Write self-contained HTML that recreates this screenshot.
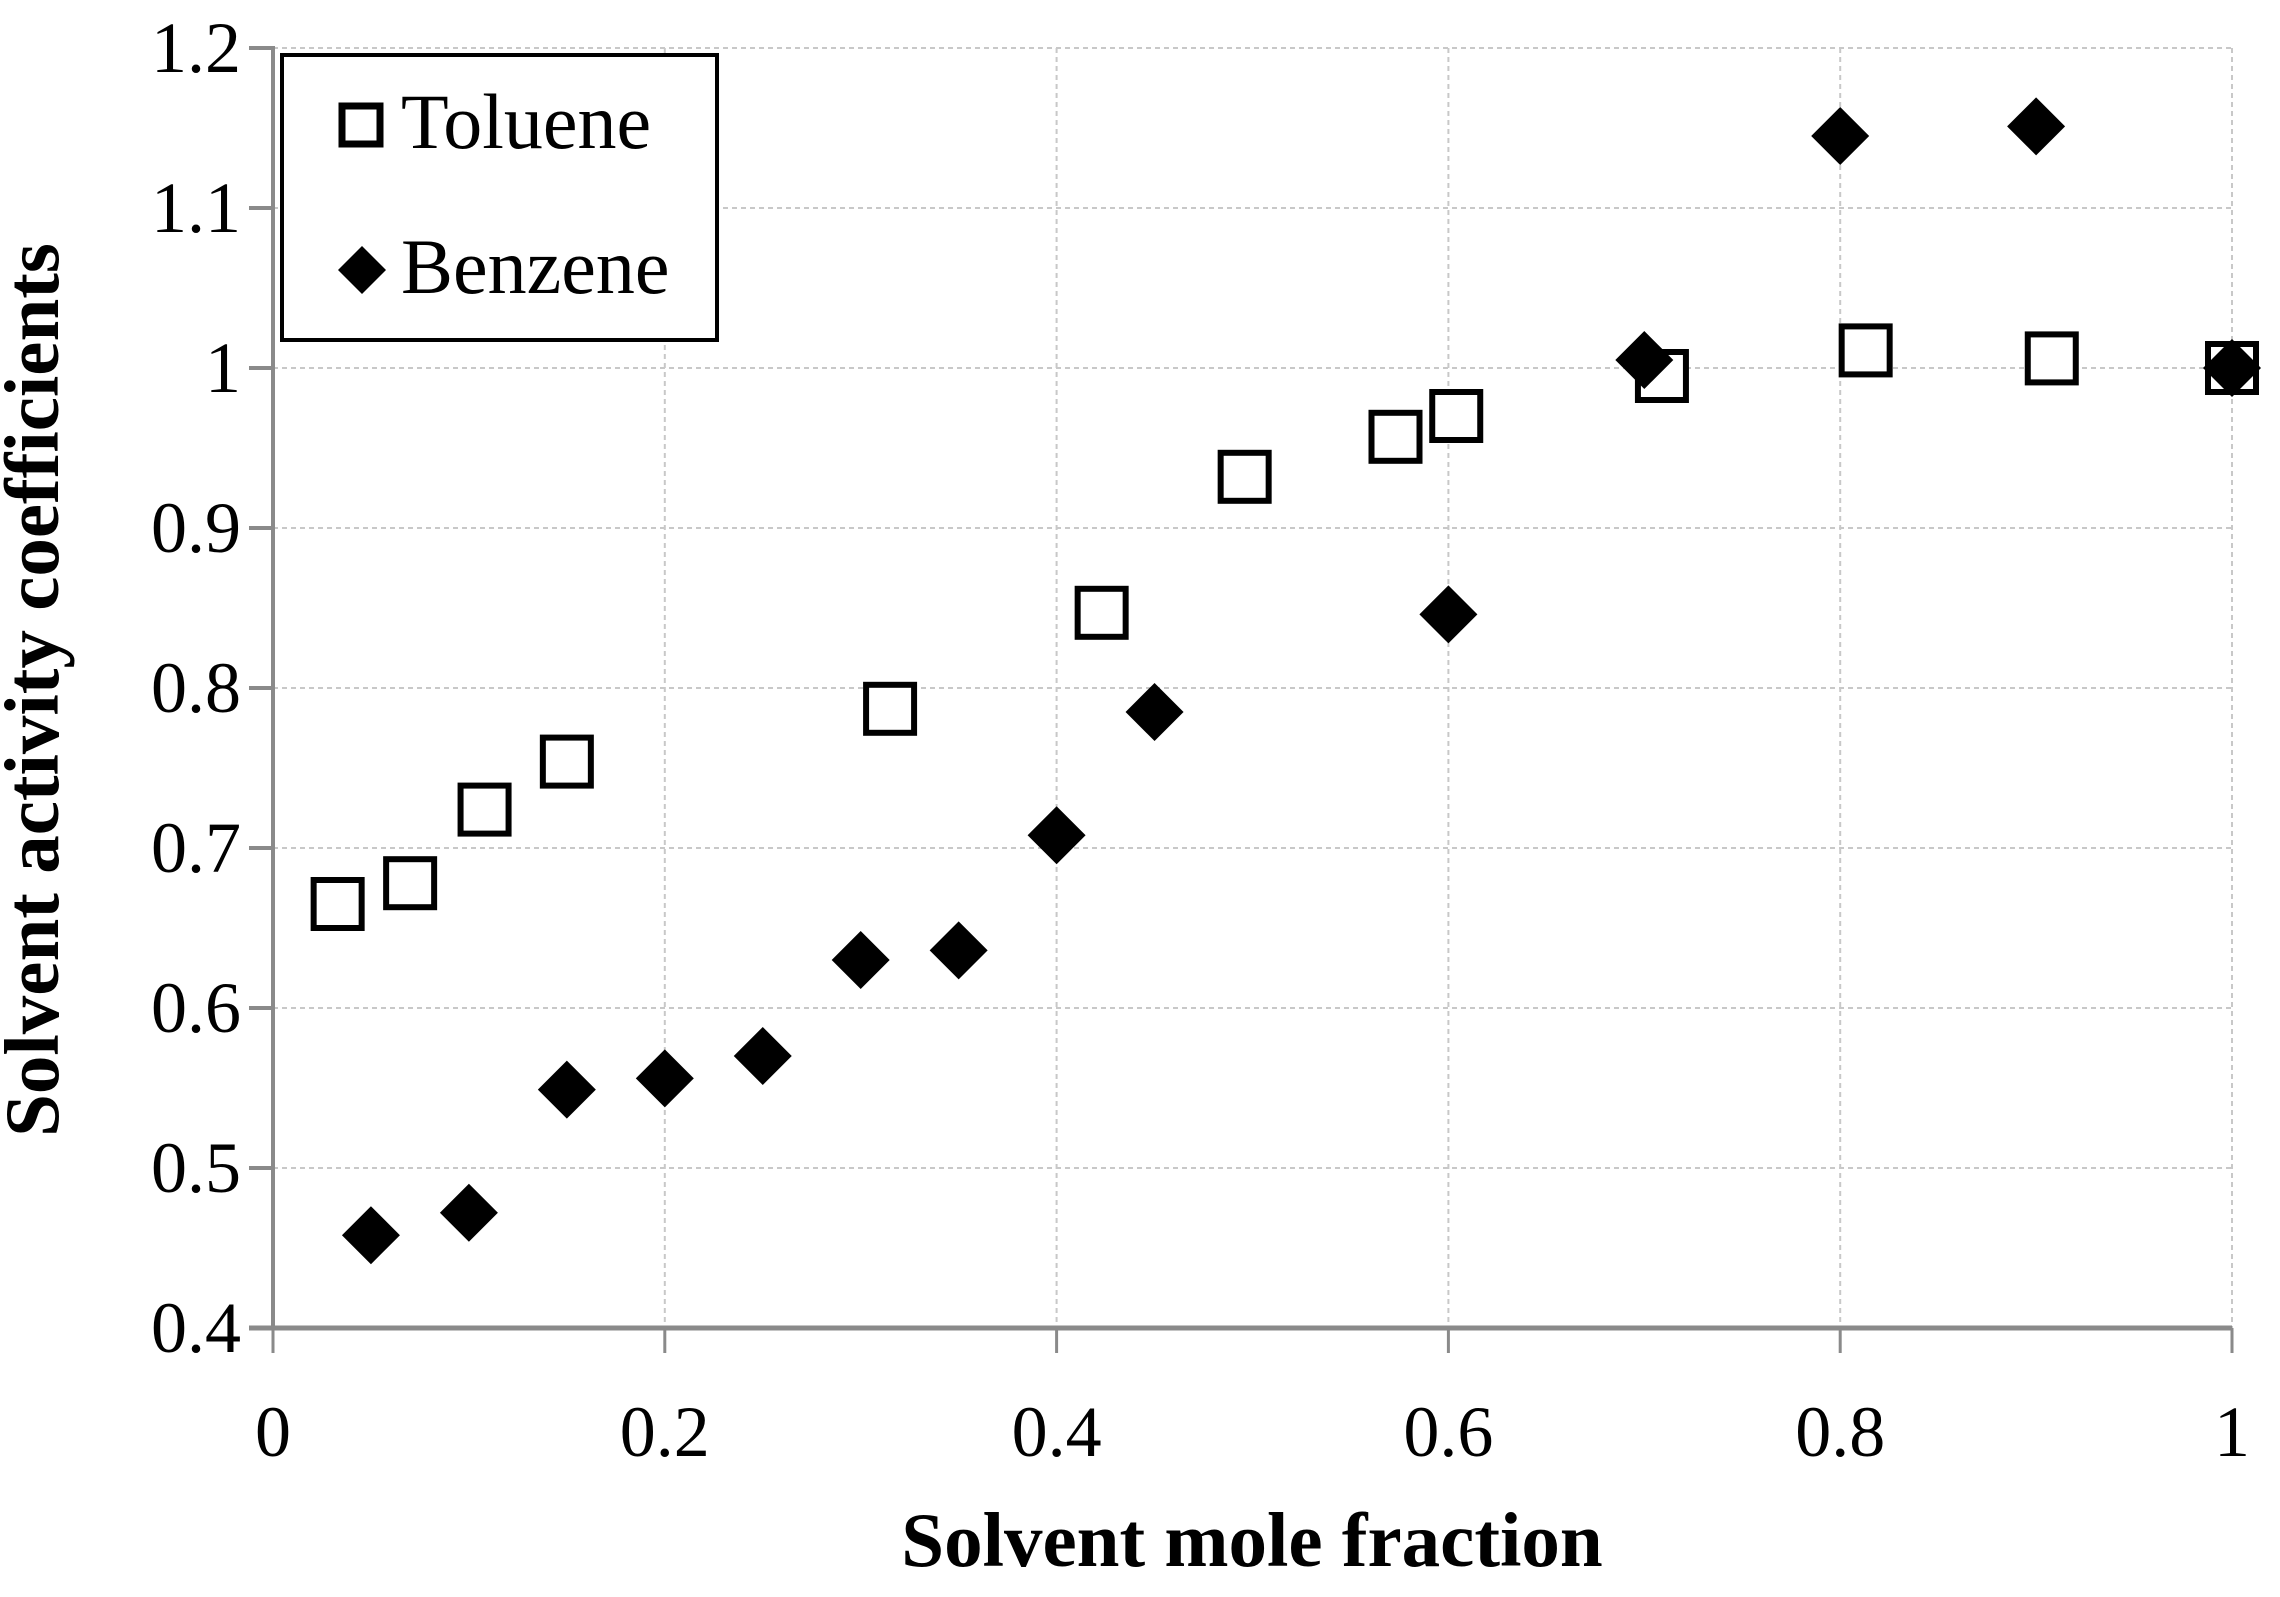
<!DOCTYPE html>
<html><head><meta charset="utf-8"><style>
html,body{margin:0;padding:0;background:#fff;}
svg{display:block;font-family:"Liberation Serif",serif;}
</style></head><body>
<svg id="chart" width="2280" height="1597" viewBox="0 0 2280 1597" xmlns="http://www.w3.org/2000/svg">
<g id="grid"></g>
<g id="axes"></g>
<g id="marks"></g>
<text x="1252" y="1566" text-anchor="middle" font-size="77" font-weight="bold">Solvent mole fraction</text>
<text transform="translate(58,690) rotate(-90)" text-anchor="middle" font-size="77" font-weight="bold">Solvent activity coefficients</text>
<g>
<rect x="282" y="55" width="435" height="285" fill="#fff" stroke="#000" stroke-width="4"/>
<rect x="342" y="106" width="38" height="38" fill="#fff" stroke="#000" stroke-width="7"/>
<text x="401" y="148" font-size="78">Toluene</text>
<polygon points="362,246 386,270 362,294 338,270" fill="#000"/>
<text x="401" y="293" font-size="78">Benzene</text>
</g>
</svg>
<script>
const xTicks = [0, 0.2, 0.4, 0.6, 0.8, 1];
const xTickLabels = ["0", "0.2", "0.4", "0.6", "0.8", "1"];
const yTicks = [0.4, 0.5, 0.6, 0.7, 0.8, 0.9, 1.0, 1.1, 1.2];
const yTickLabels = ["0.4", "0.5", "0.6", "0.7", "0.8", "0.9", "1", "1.1", "1.2"];
const tolueneX = [0.033, 0.070, 0.108, 0.150, 0.315, 0.423, 0.496, 0.573, 0.604, 0.709, 0.813, 0.908, 1.0];
const tolueneY = [0.665, 0.678, 0.724, 0.754, 0.787, 0.847, 0.932, 0.957, 0.970, 0.995, 1.011, 1.006, 1.0];
const benzeneX = [0.05, 0.1, 0.15, 0.2, 0.25, 0.3, 0.35, 0.4, 0.45, 0.6, 0.7, 0.8, 0.9, 1.0];
const benzeneY = [0.458, 0.472, 0.549, 0.556, 0.570, 0.630, 0.636, 0.708, 0.785, 0.846, 1.005, 1.145, 1.151, 1.0];

const NS = "http://www.w3.org/2000/svg";
const X0 = 273, X1 = 2232, Y0 = 1328, Y1 = 48;
function xs(v){ return X0 + (v - 0) / (1 - 0) * (X1 - X0); }
function ys(v){ return Y0 - (v - 0.4) / (1.2 - 0.4) * (Y0 - Y1); }
function mk(tag, attrs, parent){
  const e = document.createElementNS(NS, tag);
  for (const k in attrs) e.setAttribute(k, attrs[k]);
  parent.appendChild(e);
  return e;
}
const grid = document.getElementById('grid');
const axes = document.getElementById('axes');
const marks = document.getElementById('marks');

yTicks.forEach((t, i) => {
  const y = ys(t);
  if (i > 0) {
    const g = mk('line', {x1: X0, x2: X1, y1: y, y2: y, stroke: '#c8c8c8', 'stroke-width': 2, 'stroke-dasharray': '5,4'}, grid);
    
    
  }
  const tk = mk('line', {x1: X0 - 24, x2: X0, y1: y, y2: y, stroke: '#8a8a8a', 'stroke-width': 4}, axes);
  
  
  const lb = mk('text', {x: 241, y: y + 24, 'text-anchor': 'end', 'font-size': 72}, axes);
  lb.textContent = yTickLabels[i];
  
  
});
xTicks.forEach((t, i) => {
  const x = xs(t);
  if (i > 0) {
    const g = mk('line', {x1: x, x2: x, y1: Y1, y2: Y0, stroke: '#c8c8c8', 'stroke-width': 2, 'stroke-dasharray': '5,4'}, grid);
    
    
  }
  const tk = mk('line', {x1: x, x2: x, y1: Y0, y2: Y0 + 25, stroke: '#8a8a8a', 'stroke-width': 3}, axes);
  
  
  const lb = mk('text', {x: x, y: 1456, 'text-anchor': 'middle', 'font-size': 72}, axes);
  lb.textContent = xTickLabels[i];
  
  
});
const ya = mk('line', {x1: X0, x2: X0, y1: Y1 - 2, y2: Y0, stroke: '#8a8a8a', 'stroke-width': 4}, axes);


const xa = mk('line', {x1: X0 - 24, x2: X1, y1: Y0, y2: Y0, stroke: '#8a8a8a', 'stroke-width': 5}, axes);



tolueneX.forEach((v, i) => {
  const cx = xs(v), cy = ys(tolueneY[i]);
  const r = mk('rect', {x: cx - 24, y: cy - 24, width: 48, height: 48, fill: '#fff', stroke: '#000', 'stroke-width': 6}, marks);
  
  
});
benzeneX.forEach((v, i) => {
  const cx = xs(v), cy = ys(benzeneY[i]);
  const p = mk('polygon', {points: `${cx},${cy-29} ${cx+29},${cy} ${cx},${cy+29} ${cx-29},${cy}`, fill: '#000'}, marks);
  
  
});
</script>
</body></html>
